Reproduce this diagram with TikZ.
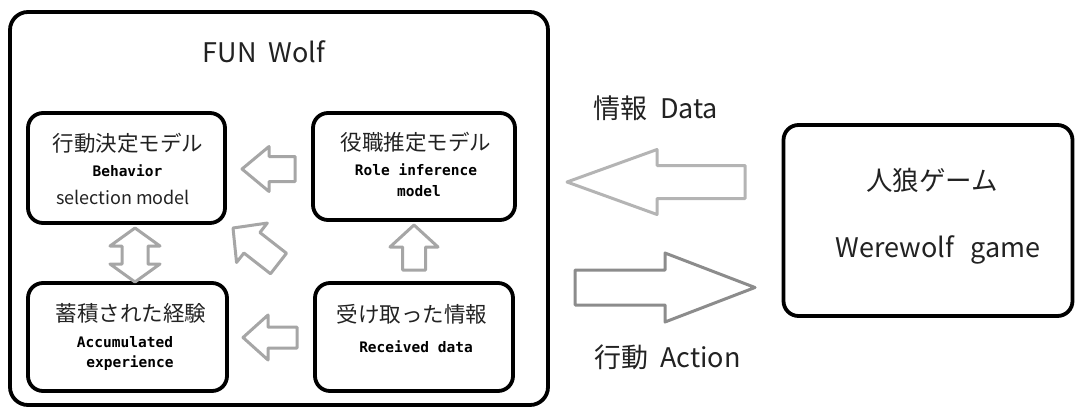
\documentclass[tikz,border=0pt]{standalone}
\usepackage{fontspec}
\newfontfamily\jpfont{Noto Sans CJK JP}
\newfontfamily\monofont{DejaVu Sans Mono}
\usetikzlibrary{calc}
\definecolor{arrgray}{HTML}{A6A6A6}
\definecolor{datagray}{HTML}{B4B4B4}
\definecolor{actgray}{HTML}{8C8C8C}
\definecolor{txt}{HTML}{222222}
\tikzset{
  box/.style={draw=black, line width=3.8pt, rounded corners=15pt, inner sep=0pt},
  jptext/.style={inner sep=0pt, text=txt, font=\jpfont\fontsize{21.5}{24}\selectfont},
  monotext/.style={inner sep=0pt, text=black, font=\monofont\bfseries\fontsize{14.5}{17}\selectfont},
  sanstext/.style={inner sep=0pt, text=txt, font=\jpfont\fontsize{18}{20}\selectfont},
  bigtext/.style={inner sep=0pt, text=txt, font=\jpfont\fontsize{27}{30}\selectfont},
  inarrow/.style={draw=arrgray, line width=3pt, line join=round, fill=white},
  dataarrow/.style={draw=datagray, line width=3pt, line join=round, fill=white},
  actarrow/.style={draw=actgray, line width=3pt, line join=round, fill=white},
}
% #1 style, #2 tail, #3 tip, #4 half shaft, #5 half head, #6 head length
\newcommand\blockarr[6]{%
  \coordinate (ba-h) at ($(#3)!#6pt!(#2)$);
  \draw[#1] ($(#2)!#4pt!90:(#3)$) -- ($(ba-h)!#4pt!90:(#3)$) -- ($(ba-h)!#5pt!90:(#3)$)
    -- (#3) -- ($(ba-h)!#5pt!-90:(#3)$) -- ($(ba-h)!#4pt!-90:(#3)$) -- ($(#2)!#4pt!-90:(#3)$) -- cycle;
}
% #1 style, #2 end A, #3 end B, #4 half shaft, #5 half head, #6 head length
\newcommand\dblarr[6]{%
  \coordinate (da-a) at ($(#2)!#6pt!(#3)$);
  \coordinate (da-b) at ($(#3)!#6pt!(#2)$);
  \draw[#1] (#2) -- ($(da-a)!#5pt!90:(#3)$) -- ($(da-a)!#4pt!90:(#3)$) -- ($(da-b)!#4pt!-90:(#2)$)
    -- ($(da-b)!#5pt!-90:(#2)$) -- (#3) -- ($(da-b)!#5pt!90:(#2)$) -- ($(da-b)!#4pt!90:(#2)$)
    -- ($(da-a)!#4pt!-90:(#3)$) -- ($(da-a)!#5pt!-90:(#3)$) -- cycle;
}
\begin{document}
\begin{tikzpicture}[x=1pt,y=-1pt]
\useasboundingbox (0,0) rectangle (1076,407);
% outer box
\node[box, rounded corners=18pt, minimum width=538pt, minimum height=393pt] (fun) at (279,208.5) {};
\node[bigtext] (funlbl) at (264,52) {FUN\hspace{0.45em}Wolf};

% inner boxes
\node[box, minimum width=197pt, minimum height=110pt] (beh) at (126.5,168) {};
\node[box, minimum width=202pt, minimum height=107pt] (role) at (414,166.5) {};
\node[box, minimum width=199pt, minimum height=108pt] (acc) at (127.5,337) {};
\node[box, minimum width=198pt, minimum height=108pt] (rec) at (414,337) {};

% texts
\node[jptext] (behjp) at (128,143) {行動決定モデル};
\node[monotext] (behen1) at (127.5,171) {Behavior};
\node[sanstext] (behen2) at (123,197) {selection model};

\node[jptext] (rolejp) at (416,142) {役職推定モデル};
\node[monotext] (roleen1) at (416,170) {Role inference};
\node[monotext] (roleen2) at (419,191) {model};

\node[jptext] (accjp) at (131,313) {蓄積された経験};
\node[monotext] (accen1) at (125,342) {Accumulated};
\node[monotext] (accen2) at (130,363) {experience};

\node[jptext] (recjp) at (412,314) {受け取った情報};
\node[monotext] (recen) at (416,347) {Received data};

% game box
\node[box, minimum width=289pt, minimum height=191pt] (game) at (928,220.5) {};
\node[bigtext, font=\jpfont\fontsize{26.5}{30}\selectfont] (gamejp) at (932,180) {人狼ゲーム};
\node[bigtext] (gameen) at (938,250) {Werewolf\hspace{0.6em}game};

\node[bigtext] (datalbl) at (656,108) {情報\hspace{0.45em}Data};
\node[bigtext] (actlbl) at (667.5,357) {行動\hspace{0.45em}Action};

% arrow end coordinates
\coordinate (a1t) at (295,169);   \coordinate (a1p) at (242,169);
\coordinate (a2t) at (278.5,263.5); \coordinate (a2p) at (233,228);
\coordinate (a3t) at (297,337.5); \coordinate (a3p) at (243,337.5);
\coordinate (a4t) at (414,270);   \coordinate (a4p) at (414,225);
\coordinate (a5a) at (135,228);   \coordinate (a5b) at (135,282);
\coordinate (a6t) at (745,182);   \coordinate (a6p) at (567,182);
\coordinate (a7t) at (575,287.5); \coordinate (a7p) at (755,287.5);

\blockarr{inarrow}{a1t}{a1p}{12.5}{22.5}{27}
\blockarr{inarrow}{a2t}{a2p}{13}{25}{24}
\blockarr{inarrow}{a3t}{a3p}{10.5}{22.5}{25}
\blockarr{inarrow}{a4t}{a4p}{11.5}{24}{22}
\dblarr{inarrow}{a5a}{a5b}{13}{25}{18}
\blockarr{dataarrow}{a6t}{a6p}{16.5}{32.5}{90}
\blockarr{actarrow}{a7t}{a7p}{17.5}{34.5}{90}
\end{tikzpicture}
\end{document}
